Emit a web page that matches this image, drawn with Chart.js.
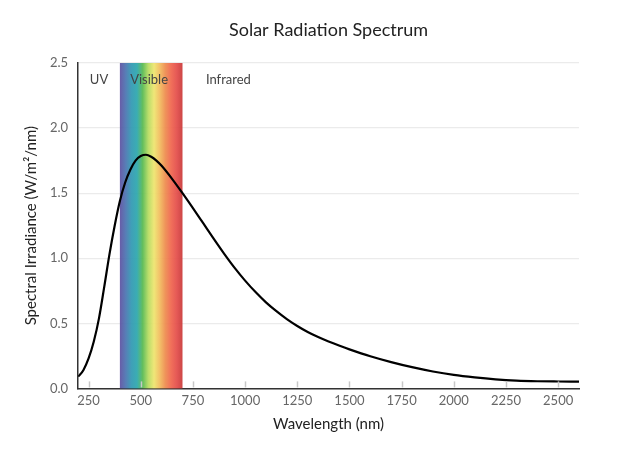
<!DOCTYPE html>
<html>
<head>
<meta charset="utf-8">
<title>Solar Radiation Spectrum</title>
<script src="https://cdn.jsdelivr.net/npm/chart.js@4.4.1/dist/chart.umd.min.js"></script>
<style>
  html, body { margin: 0; padding: 0; background: #fff; }
  #wrap { width: 618px; height: 455px; }
</style>
</head>
<body>
<div id="wrap"><canvas id="myChart"></canvas></div>
<script>
// wavelength (nm) and spectral irradiance (W/m2/nm)
const wavelengths = [200, 225, 250, 275, 300, 325, 350, 375, 400, 425, 450, 475, 500, 525, 550, 575, 600, 650, 700,
  750, 800, 850, 900, 950, 1000, 1050, 1100, 1150, 1200, 1250, 1300, 1350, 1400, 1450, 1500,
  1600, 1700, 1800, 1900, 2000, 2100, 2200, 2300, 2400, 2500, 2600];
const irradiance = [0.09, 0.14, 0.23, 0.36, 0.54, 0.78, 1.03, 1.25, 1.44, 1.58, 1.68, 1.75, 1.785, 1.795, 1.78, 1.75, 1.71, 1.61, 1.50,
  1.385, 1.267, 1.149, 1.034, 0.926, 0.828, 0.74, 0.661, 0.593, 0.532, 0.479, 0.433, 0.394, 0.36, 0.329, 0.30,
  0.247, 0.202, 0.163, 0.13, 0.104, 0.085, 0.07, 0.06, 0.055, 0.053, 0.052];

const xTicks = [250, 500, 750, 1000, 1250, 1500, 1750, 2000, 2250, 2500];
const yTicks = [0, 0.5, 1.0, 1.5, 2.0, 2.5];

// visible band and region labels
const visibleBand = [400, 700];
const regionLabels = ['UV', 'Visible', 'Infrared'];
const regionLabelX = [300, 540, 920];
const regionLabelY = 2.37;

const chartTitle = 'Solar Radiation Spectrum';

const spectrumColors = ['#5b4fa1', '#4a72b0', '#2f97b2', '#2aa6ad', '#56b94f', '#b5db5e',
  '#eee56c', '#f2bb5c', '#ee8a4c', '#f0644c', '#e34b48', '#c93636'];

const ctx = document.getElementById('myChart');

const bandPlugin = {
  id: 'band',
  beforeDatasetsDraw(chart) {
    const { ctx, chartArea, scales } = chart;
    const x0 = scales.x.getPixelForValue(visibleBand[0]);
    const x1 = scales.x.getPixelForValue(visibleBand[1]);
    const grad = ctx.createLinearGradient(x0, 0, x1, 0);
    spectrumColors.forEach(function (c, i) {
      grad.addColorStop(i / (spectrumColors.length - 1), c);
    });
    ctx.save();
    ctx.globalAlpha = 0.92;
    ctx.fillStyle = grad;
    ctx.fillRect(x0, chartArea.top, x1 - x0, chartArea.bottom - chartArea.top);
    ctx.restore();

    // region labels
    ctx.save();
    ctx.font = '13px Lato';
    ctx.fillStyle = '#444';
    ctx.textAlign = 'center';
    ctx.textBaseline = 'middle';
    const y = scales.y.getPixelForValue(regionLabelY);
    regionLabels.forEach(function (t, i) {
      ctx.fillText(t, scales.x.getPixelForValue(regionLabelX[i]), y);
    });
    ctx.restore();
  },
  afterDraw(chart) {
    const { ctx, chartArea, scales } = chart;
    // small tick marks pointing up from the x axis
    ctx.save();
    ctx.strokeStyle = '#c8c8c8';
    ctx.lineWidth = 1.5;
    xTicks.forEach(function (v) {
      const x = Math.round(scales.x.getPixelForValue(v)) + 0.5;
      ctx.beginPath();
      ctx.moveTo(x, chartArea.bottom - 1);
      ctx.lineTo(x, chartArea.bottom - 7);
      ctx.stroke();
    });
    ctx.restore();

    // title, centred over the plot area
    ctx.save();
    ctx.font = '18px Lato';
    ctx.fillStyle = '#222';
    ctx.textAlign = 'center';
    ctx.textBaseline = 'middle';
    ctx.fillText(chartTitle, (chartArea.left + chartArea.right) / 2, 30);
    ctx.restore();
  }
};

const myChart = new Chart(ctx, {
  type: 'line',
  data: {
    datasets: [{
      label: 'Spectral Irradiance',
      data: wavelengths.map(function (w, i) { return { x: w, y: irradiance[i] }; }),
      borderColor: '#000',
      borderWidth: 2.2,
      pointRadius: 0,
      fill: false,
      cubicInterpolationMode: 'monotone'
    }]
  },
  options: {
    responsive: true,
    maintainAspectRatio: false,
    animation: false,
    layout: { padding: { left: 22, right: 39, top: 63, bottom: 22 } },
    plugins: {
      legend: { display: false },
      tooltip: { enabled: false },
      title: { display: false }
    },
    scales: {
      x: {
        type: 'linear',
        min: 200,
        max: 2600,
        afterBuildTicks: function (scale) {
          scale.ticks = xTicks.map(function (v) { return { value: v }; });
        },
        grid: { display: false, drawTicks: false },
        border: { color: '#333', width: 1.5 },
        ticks: {
          color: '#666',
          padding: 5,
          maxRotation: 0,
          font: { family: 'Lato', size: 13 },
          callback: function (v) { return String(v); }
        },
        title: {
          display: true,
          text: 'Wavelength (nm)',
          color: '#222',
          font: { family: 'Lato', size: 15 },
          padding: { top: 1, bottom: 0 }
        }
      },
      y: {
        min: 0,
        max: 2.5,
        afterBuildTicks: function (scale) {
          scale.ticks = yTicks.map(function (v) { return { value: v }; });
        },
        grid: { color: '#ebebeb', lineWidth: 1.2, drawTicks: false },
        border: { color: '#333', width: 1.5 },
        ticks: {
          color: '#666',
          padding: 10,
          font: { family: 'Lato', size: 13 },
          callback: function (v) { return Number(v).toFixed(1); }
        },
        title: {
          display: true,
          text: 'Spectral Irradiance (W/m\u00b2/nm)',
          color: '#222',
          font: { family: 'Lato', size: 15 },
          padding: { top: 0, bottom: 0 }
        }
      }
    }
  },
  plugins: [bandPlugin]
});
</script>
</body>
</html>
